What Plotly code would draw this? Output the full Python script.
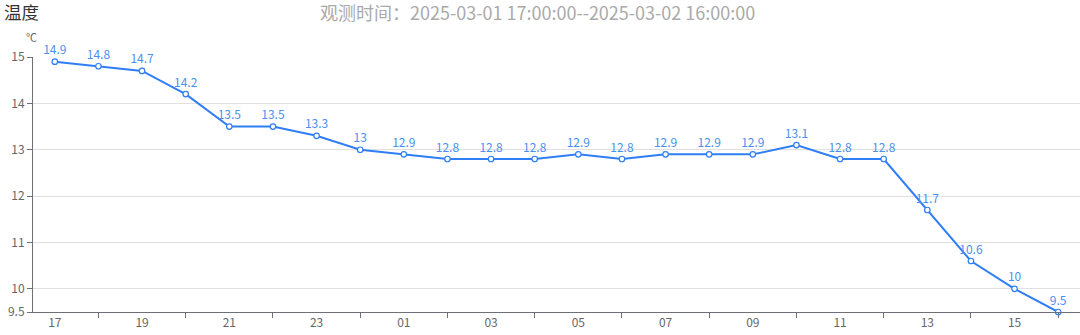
import plotly.graph_objects as go

hours = ["17","18","19","20","21","22","23","00","01","02","03","04",
         "05","06","07","08","09","10","11","12","13","14","15","16"]
temps = [14.9, 14.8, 14.7, 14.2, 13.5, 13.5, 13.3, 13, 12.9, 12.8, 12.8, 12.8,
         12.9, 12.8, 12.9, 12.9, 12.9, 13.1, 12.8, 12.8, 11.7, 10.6, 10, 9.5]
y_ticks = [9.5, 10, 11, 12, 13, 14, 15]
title_text = "温度"
subtitle_text = "观测时间：2025-03-01 17:00:00--2025-03-02 16:00:00"
unit_text = "℃"

idx = list(range(len(hours)))
FONT = "Noto Sans CJK SC, Microsoft YaHei, sans-serif"
BLUE = "#2f7ef5"

fig = go.Figure()
fig.add_trace(go.Scatter(
    x=idx, y=temps, mode="lines+markers+text",
    line=dict(color=BLUE, width=2),
    marker=dict(symbol="circle", size=5.5, color="white", line=dict(color=BLUE, width=1.2)),
    text=[str(v) for v in temps], textposition="top center",
    textfont=dict(color="#4a8ff2", size=12, family=FONT),
    cliponaxis=False, showlegend=False, hoverinfo="skip",
))

fig.update_layout(
    width=1080, height=335,
    margin=dict(l=33, r=0, t=57, b=23),
    paper_bgcolor="white", plot_bgcolor="white",
    font=dict(family=FONT, color="#666", size=12),
    xaxis=dict(
        range=[-0.5, 23.5], tickvals=idx[0::2], ticktext=hours[0::2],
        ticks="", showgrid=False, zeroline=False,
        showline=True, linecolor="#6e7079", linewidth=1,
        tickfont=dict(size=12, color="#666"),
        minor=dict(tickvals=idx[1::2], ticks="outside", ticklen=5,
                   tickcolor="#6e7079", showgrid=False),
    ),
    yaxis=dict(
        range=[9.5, 15], tickvals=y_ticks, ticktext=[str(v) for v in y_ticks],
        ticks="outside", ticklen=5, tickcolor="#6e7079",
        showgrid=True, gridcolor="#e0e0e0", gridwidth=1, zeroline=False,
        showline=True, linecolor="#6e7079", linewidth=1,
        tickfont=dict(size=12, color="#666"),
    ),
)
fig.add_annotation(text=title_text, xref="paper", yref="paper", x=-31/1047, y=1+(57-12)/255,
                   xanchor="left", yanchor="middle", showarrow=False,
                   font=dict(size=17.5, color="#333", family=FONT))
fig.add_annotation(text=subtitle_text, xref="paper", yref="paper", x=(537-33)/1047, y=1+(57-12)/255,
                   xanchor="center", yanchor="middle", showarrow=False,
                   font=dict(size=18, color="#aaa", family=FONT))
fig.add_annotation(text=unit_text, xref="paper", yref="paper", x=(31-33)/1047, y=1+(57-37)/255,
                   xanchor="center", yanchor="middle", showarrow=False,
                   font=dict(size=11, color="#666", family=FONT))

fig.write_html("out.html")
